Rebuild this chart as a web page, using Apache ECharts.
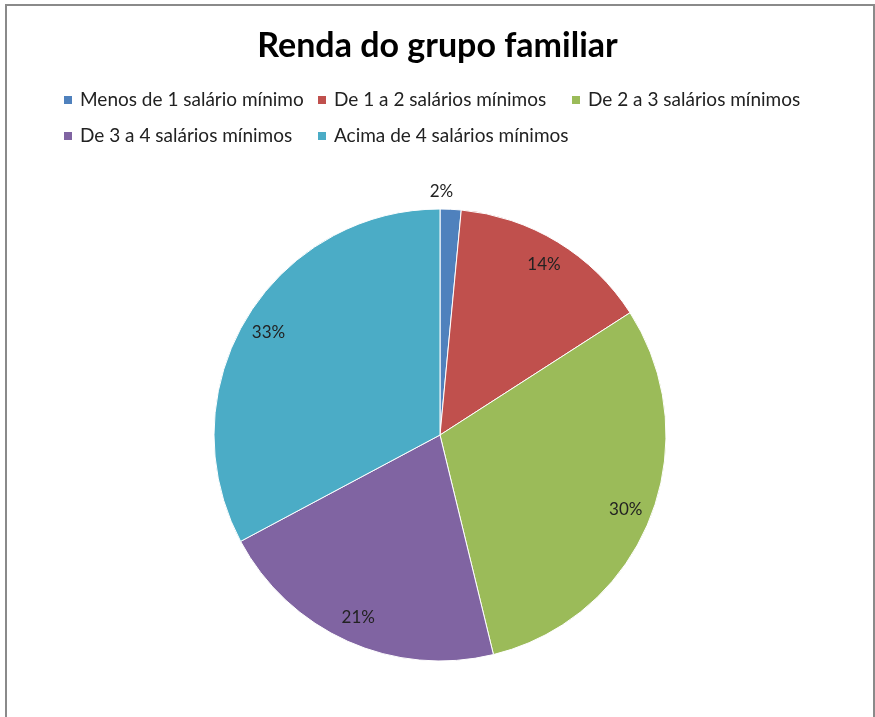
<!DOCTYPE html>
<html>
<head>
<meta charset="utf-8">
<script src="https://cdn.jsdelivr.net/npm/echarts@6/dist/echarts.min.js"></script>
<style>
  html, body { margin: 0; padding: 0; background: #fff; }
  #main { width: 875px; height: 717px; }
</style>
</head>
<body>
<div id="main"></div>
<script>
// faixas de renda e percentuais
const categorias = [
  'Menos de 1 salário mínimo',
  'De 1 a 2 salários mínimos',
  'De 2 a 3 salários mínimos',
  'De 3 a 4 salários mínimos',
  'Acima de 4 salários mínimos'
];
const valores = [1.5, 14.4, 30.3, 21.0, 32.8];
const cores = ['#4F81BD', '#C0504D', '#9BBB59', '#8064A2', '#4BACC6'];

const fonte = 'Lato, "Open Sans", sans-serif';

const chart = echarts.init(document.getElementById('main'));

const dados = categorias.map((nome, i) => ({ name: nome, value: valores[i] }));

// rótulos: anel transparente para posicionar as percentagens perto da borda
const dadosRotulo = categorias.map((nome, i) => {
  const item = { name: nome, value: valores[i] };
  if (i === 0) {
    // fatia pequena: rótulo fora, acima
    item.label = { offset: [-8, -44] };
  }
  return item;
});

const option = {
  backgroundColor: '#fff',
  color: cores,
  animation: false,
  title: {
    text: 'Renda do grupo familiar',
    left: 'center',
    top: 24,
    textStyle: { fontFamily: fonte, fontSize: 34, fontWeight: 'bold', color: '#000' }
  },
  legend: {
    data: categorias,
    left: 62,
    top: 82,
    width: 790,
    padding: 0,
    orient: 'horizontal',
    icon: 'rect',
    itemWidth: 10,
    itemHeight: 10,
    itemGap: 0,
    selectedMode: false,
    textStyle: {
      fontFamily: fonte,
      fontSize: 19,
      color: '#222',
      width: 236,
      lineHeight: 36,
      padding: [0, 0, 0, 2]
    }
  },
  graphic: [
    {
      type: 'rect',
      shape: { x: 6, y: 5, width: 868, height: 730 },
      style: { fill: 'none', stroke: '#8a8a8a', lineWidth: 2 },
      silent: true
    }
  ],
  series: [
    {
      type: 'pie',
      center: [440, 435],
      radius: [0, 226],
      startAngle: 90,
      clockwise: true,
      data: dados,
      label: { show: false },
      labelLine: { show: false },
      itemStyle: { borderColor: '#fff', borderWidth: 1 },
      emphasis: { disabled: true }
    },
    {
      type: 'pie',
      center: [440, 435],
      radius: [168, 226],
      startAngle: 90,
      clockwise: true,
      silent: true,
      data: dadosRotulo,
      itemStyle: { color: 'rgba(0,0,0,0)' },
      labelLine: { show: false },
      label: {
        show: true,
        position: 'inside',
        fontFamily: fonte,
        fontSize: 17,
        color: '#222',
        formatter: p => Math.round(p.percent) + '%'
      },
      emphasis: { disabled: true }
    }
  ]
};

chart.setOption(option);
</script>
</body>
</html>
